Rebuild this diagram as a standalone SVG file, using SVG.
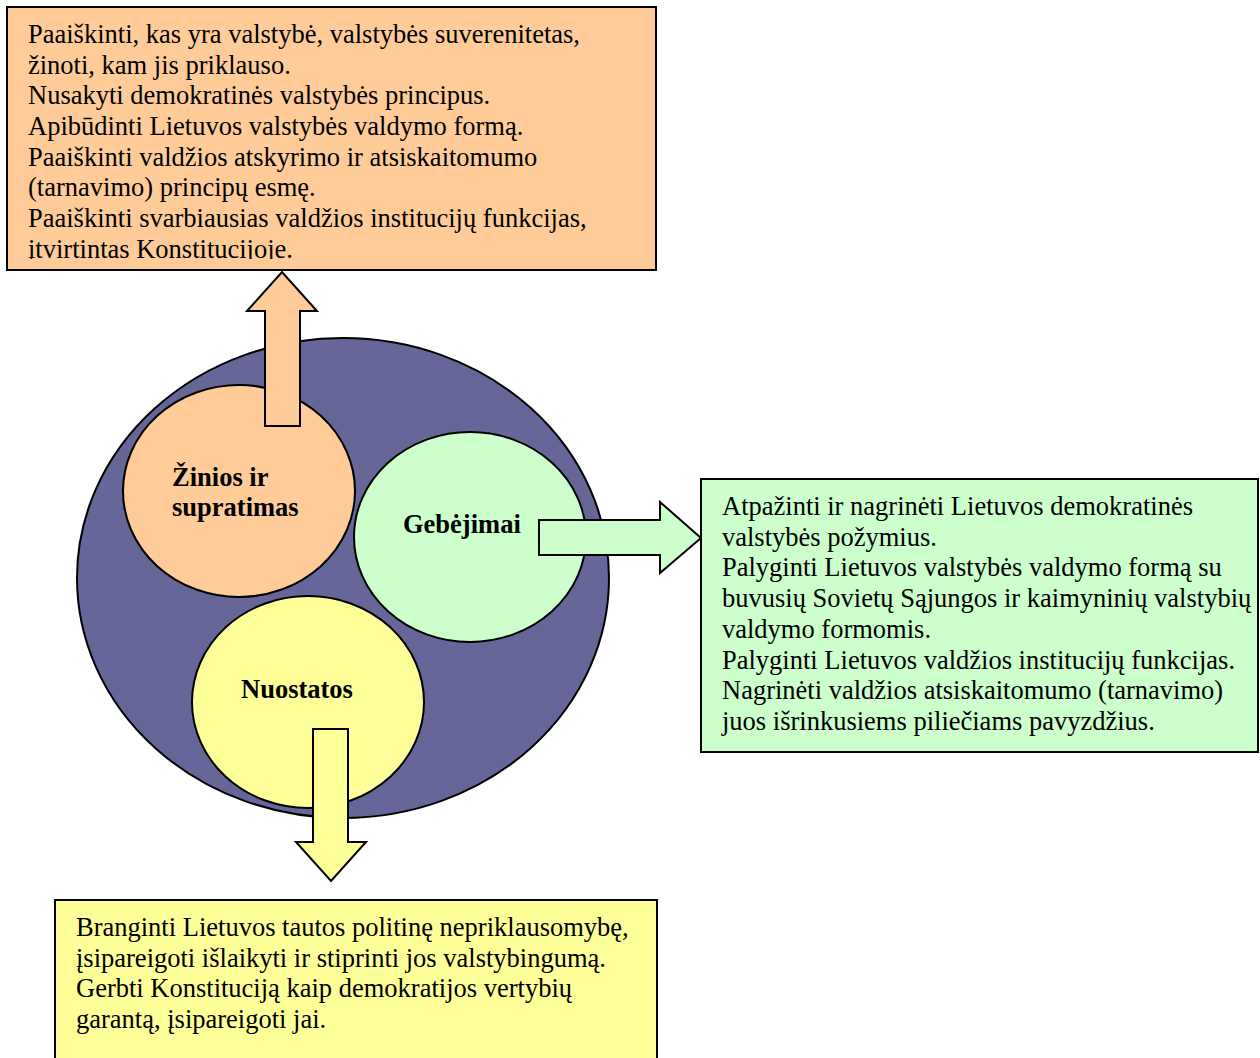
<svg xmlns="http://www.w3.org/2000/svg" width="1260" height="1058" viewBox="0 0 1260 1058">
<style>
.box{stroke:#000;stroke-width:2}
.shape{stroke:#000;stroke-width:2}
.t{font-family:"Liberation Serif","Times New Roman",serif;font-size:26.5px;fill:#000}
.lbl{font-family:"Liberation Serif","Times New Roman",serif;font-size:26.5px;font-weight:bold;fill:#000}
</style>
<defs>
<clipPath id="topclip"><rect x="8" y="8" width="647" height="251"/></clipPath>
</defs>
<rect width="1260" height="1058" fill="#fff"/>

<g id="top-box">
<rect class="box" x="7" y="7" width="649" height="263" fill="#FFCC99"/>
<g clip-path="url(#topclip)">
<text class="t" x="28" y="43">Paaiškinti, kas yra valstybė, valstybės suverenitetas,</text>
<text class="t" x="28" y="74">žinoti, kam jis priklauso.</text>
<text class="t" x="28" y="104">Nusakyti demokratinės valstybės principus.</text>
<text class="t" x="28" y="135">Apibūdinti Lietuvos valstybės valdymo formą.</text>
<text class="t" x="28" y="166">Paaiškinti valdžios atskyrimo ir atsiskaitomumo</text>
<text class="t" x="28" y="196">(tarnavimo) principų esmę.</text>
<text class="t" x="28" y="227">Paaiškinti svarbiausias valdžios institucijų funkcijas,</text>
<text class="t" x="28" y="258">įtvirtintas Konstitucijoje.</text>
</g>
</g>

<g id="outer-circle">
<ellipse class="shape" cx="343" cy="578" rx="266" ry="240" fill="#666699"/>
</g>

<g id="zinios">
<ellipse class="shape" cx="239" cy="491" rx="116" ry="106" fill="#FFCC99"/>
<text class="lbl" x="172" y="486">Žinios ir</text>
<text class="lbl" x="172" y="516">supratimas</text>
</g>

<g id="gebejimai">
<ellipse class="shape" cx="470" cy="537" rx="116" ry="105" fill="#CCFFCC"/>
<text class="lbl" x="403" y="533">Gebėjimai</text>
</g>

<g id="nuostatos">
<ellipse class="shape" cx="308" cy="702" rx="116" ry="106" fill="#FFFF99"/>
<text class="lbl" x="241" y="698">Nuostatos</text>
</g>

<g id="connectors">
<polygon class="shape" fill="#FFCC99" points="265,426 265,311 247,311 282,272 317,311 300,311 300,426"/>
<polygon class="shape" fill="#CCFFCC" points="539,520 660,520 660,502 701,538 660,573 660,555 539,555"/>
<polygon class="shape" fill="#FFFF99" points="313,729 348,729 348,842 366,842 331,881 296,842 313,842"/>
</g>

<g id="right-box">
<rect class="box" x="701" y="479" width="557" height="273" fill="#CCFFCC"/>
<text class="t" x="722" y="515">Atpažinti ir nagrinėti Lietuvos demokratinės</text>
<text class="t" x="722" y="546">valstybės požymius.</text>
<text class="t" x="722" y="576">Palyginti Lietuvos valstybės valdymo formą su</text>
<text class="t" x="722" y="607">buvusių Sovietų Sąjungos ir kaimyninių valstybių</text>
<text class="t" x="722" y="638">valdymo formomis.</text>
<text class="t" x="722" y="669">Palyginti Lietuvos valdžios institucijų funkcijas.</text>
<text class="t" x="722" y="699">Nagrinėti valdžios atsiskaitomumo (tarnavimo)</text>
<text class="t" x="722" y="730">juos išrinkusiems piliečiams pavyzdžius.</text>
</g>

<g id="bottom-box">
<rect class="box" x="55" y="900" width="602" height="180" fill="#FFFF99"/>
<text class="t" x="76" y="936">Branginti Lietuvos tautos politinę nepriklausomybę,</text>
<text class="t" x="76" y="967">įsipareigoti išlaikyti ir stiprinti jos valstybingumą.</text>
<text class="t" x="76" y="997">Gerbti Konstituciją kaip demokratijos vertybių</text>
<text class="t" x="76" y="1028">garantą, įsipareigoti jai.</text>
</g>
</svg>
